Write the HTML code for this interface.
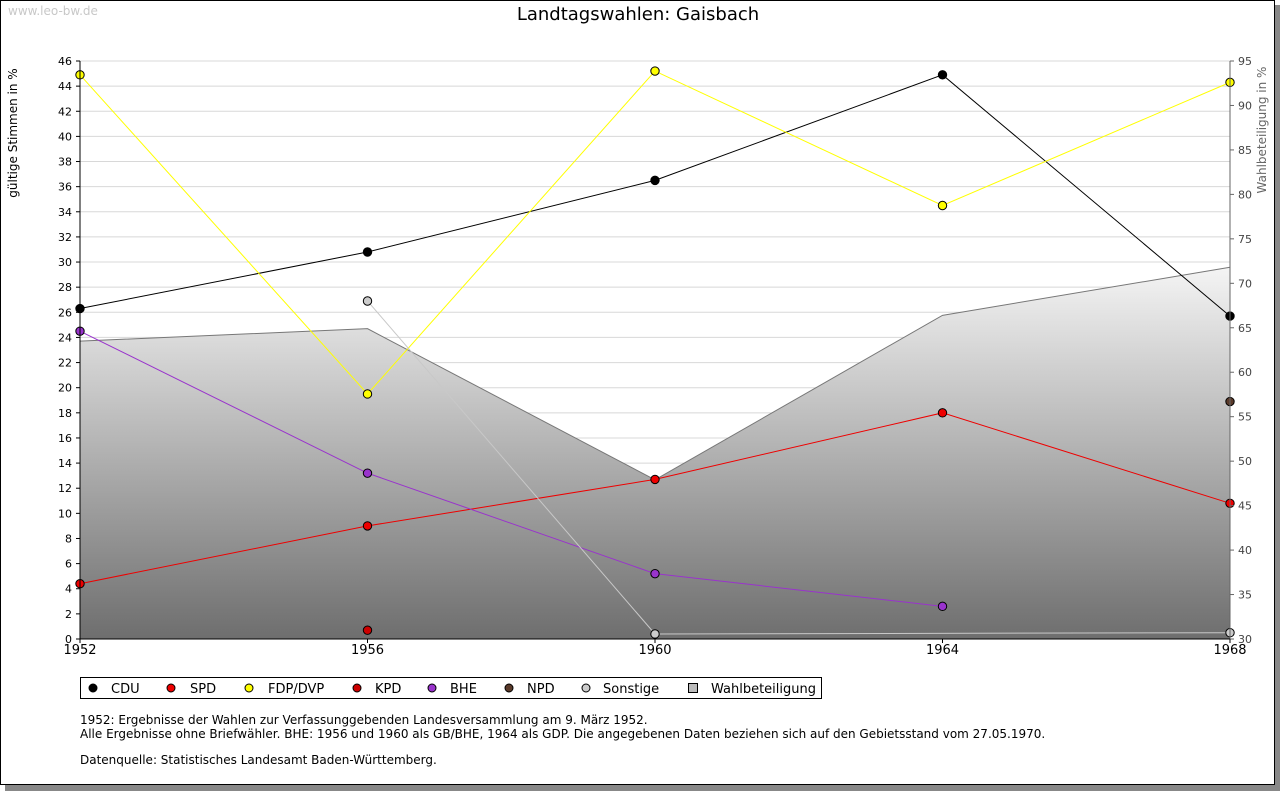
<!DOCTYPE html>
<html><head><meta charset="utf-8"><style>
body{margin:0;background:#fff;width:1280px;height:791px;overflow:hidden;font-family:"DejaVu Sans","Liberation Sans",sans-serif;}
</style></head><body>
<svg id="chart" width="1280" height="791" xmlns="http://www.w3.org/2000/svg" font-family="DejaVu Sans, Liberation Sans, sans-serif">
<defs>
<linearGradient id="g" x1="0" y1="0" x2="0" y2="1">
<stop offset="0" stop-color="#f4f4f4"/><stop offset="1" stop-color="#6e6e6e"/>
</linearGradient>
</defs>
<rect x="5" y="5" width="1275" height="786" fill="#888"/>
<rect x="0.5" y="0.5" width="1274" height="784" fill="#fff" stroke="#000"/>
<text x="8" y="15" font-size="12" fill="#c8c8c8">www.leo-bw.de</text>
<text x="638" y="20" font-size="18" text-anchor="middle" fill="#000">Landtagswahlen: Gaisbach</text>
<g id="grid"></g>
<g id="area"></g>
<g id="series"></g>
<g id="axes"></g>
<text transform="translate(17,133) rotate(-90)" font-size="12" text-anchor="middle">gültige Stimmen in %</text>
<text transform="translate(1266,130) rotate(-90)" font-size="12" fill="#666" text-anchor="middle">Wahlbeteiligung in %</text>
<g id="legend"></g>
<text x="80" y="724" font-size="12">1952: Ergebnisse der Wahlen zur Verfassunggebenden Landesversammlung am 9. März 1952.</text>
<text x="80" y="738" font-size="12">Alle Ergebnisse ohne Briefwähler. BHE: 1956 und 1960 als GB/BHE, 1964 als GDP. Die angegebenen Daten beziehen sich auf den Gebietsstand vom 27.05.1970.</text>
<text x="80" y="764" font-size="12">Datenquelle: Statistisches Landesamt Baden-Württemberg.</text>
</svg>
<script>
const years=[1952,1956,1960,1964,1968];
const cdu=[26.3,30.8,36.5,44.9,25.7];
const spd=[4.4,9.0,12.7,18.0,10.8];
const fdp=[44.9,19.5,45.2,34.5,44.3];
const kpd=[null,0.7,null,null,null];
const bhe=[24.5,13.2,5.2,2.6,null];
const npd=[null,null,null,null,18.9];
const sonstige=[null,26.9,0.4,null,0.5];
const turnout=[63.5,64.9,47.9,66.4,71.8];
const leftTicks=[0,2,4,6,8,10,12,14,16,18,20,22,24,26,28,30,32,34,36,38,40,42,44,46];
const rightTicks=[30,35,40,45,50,55,60,65,70,75,80,85,90,95];

const NS="http://www.w3.org/2000/svg";
const X0=80,X1=1230,Y0=639,Y1=61;
const x=yr=>X0+(yr-1952)/(1968-1952)*(X1-X0);
const y=v=>Y0-v/46*(Y0-Y1);
const yr2=v=>Y0-(v-30)/65*(Y0-Y1);
function mk(tag,attrs,parent){const e=document.createElementNS(NS,tag);for(const k in attrs)e.setAttribute(k,attrs[k]);parent.appendChild(e);return e;}
const grid=document.getElementById('grid'),axes=document.getElementById('axes'),area=document.getElementById('area'),ser=document.getElementById('series'),leg=document.getElementById('legend');

leftTicks.forEach(t=>{
 if(t>0){const l=mk('line',{x1:X0,x2:X1,y1:y(t),y2:y(t),stroke:'#d8d8d8'},grid);
 
 }
 mk('line',{x1:X0-4,x2:X0,y1:y(t),y2:y(t),stroke:'#000'},axes);
 const tx=mk('text',{x:X0-8,y:y(t)+4,'font-size':11,'text-anchor':'end'},axes);tx.textContent=t;
 
 
});
rightTicks.forEach(t=>{
 mk('line',{x1:X1,x2:X1+4,y1:yr2(t),y2:yr2(t),stroke:'#666'},axes);
 const tx=mk('text',{x:X1+8,y:yr2(t)+4,'font-size':11,fill:'#444'},axes);tx.textContent=t;
 
 
});
years.forEach(yr=>{
 mk('line',{x1:x(yr),x2:x(yr),y1:Y0,y2:Y0+4,stroke:'#000'},axes);
 const tx=mk('text',{x:x(yr),y:Y0+15,'font-size':13,'text-anchor':'middle'},axes);tx.textContent=yr;
 
 
});
let d='M'+x(years[0])+','+Y0;
turnout.forEach((v,i)=>d+=' L'+x(years[i])+','+yr2(v));
d+=' L'+x(years[years.length-1])+','+Y0+' Z';
const ap=mk('path',{d:d,fill:'url(#g)'},area);


const al=mk('polyline',{points:turnout.map((v,i)=>x(years[i])+','+yr2(v)).join(' '),fill:'none',stroke:'#777'},area);


mk('line',{x1:X0,x2:X0,y1:Y1,y2:Y0,stroke:'#000'},axes);
mk('line',{x1:X1,x2:X1,y1:Y1,y2:Y0,stroke:'#666'},axes);
mk('line',{x1:X0,x2:X1,y1:Y0,y2:Y0,stroke:'#000'},axes);

const defs=[['cdu',cdu,'#000','#000'],['spd',spd,'#e00','#e00'],['fdp',fdp,'#ffff00','#ff0'],['kpd',kpd,'#c00','#c00'],['bhe',bhe,'#9933cc','#93c'],['npd',npd,'#5a3a2a','#5a3a2a'],['sonstige',sonstige,'#ccc','#c8c8c8']];
defs.forEach(([n,arr,fill,line])=>{
 const pts=[];arr.forEach((v,i)=>{if(v!==null)pts.push([x(years[i]),y(v)]);});
 if(pts.length>1){const pl=mk('polyline',{points:pts.map(p=>p.join(',')).join(' '),fill:'none',stroke:line},ser);
  
  }
 pts.forEach(p=>{const c=mk('circle',{cx:p[0],cy:p[1],r:4.2,fill:fill,stroke:'#000','stroke-width':1},ser);
  
  });
});
const lb=mk('rect',{x:80.5,y:677.5,width:741,height:21,fill:'#fff',stroke:'#000'},leg);


const lg=[['CDU','#000',93,111],['SPD','#e00',171,190],['FDP/DVP','#ff0',249,268],['KPD','#c00',357,375],['BHE','#93c',432,450],['NPD','#5a3a2a',509,527],['Sonstige','#ccc',586,603]];
lg.forEach(([t,c,mx,tx])=>{
 const m=mk('circle',{cx:mx,cy:688,r:4,fill:c,stroke:'#000'},leg);
 
 
 const e=mk('text',{x:tx,y:693,'font-size':13},leg);e.textContent=t;
 
 
});
const sq=mk('rect',{x:688.5,y:683.5,width:9,height:9,fill:'#bbb',stroke:'#000'},leg);


const wt=mk('text',{x:711,y:693,'font-size':13},leg);wt.textContent='Wahlbeteiligung';


</script>
</body></html>
